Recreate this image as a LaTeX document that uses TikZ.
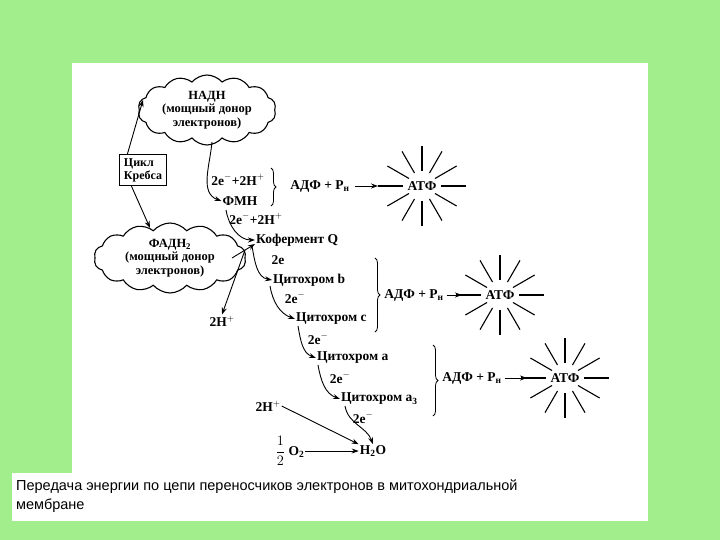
\documentclass[tikz,border=0pt]{standalone}
\usepackage{fontspec}
\setmainfont{Liberation Serif}
\newfontfamily\capfont{Liberation Sans}
\usetikzlibrary{shapes.symbols,arrows.meta,decorations.pathreplacing,calc}
\definecolor{bg}{HTML}{A3EE8C}
\tikzset{
  lbl/.style={font=\fontsize{13.5}{14}\selectfont\bfseries, inner sep=1pt},
  arr/.style={-{Stealth[length=7pt,width=5pt]}, line width=0.9pt},
  cl/.style={cloud, cloud puffs=14, cloud puff arc=100, cloud ignores aspect, draw, line width=1.1pt, align=center, font=\fontsize{12.5}{13.5}\selectfont\bfseries, inner sep=0pt},
  br/.style={decorate, decoration={brace, amplitude=5pt}, line width=0.8pt},
  ray/.style={line width=1.1pt}
}
\newcommand{\atpstar}[2]{%
  \node[lbl] (#2) at (#1) {АТФ};
  \foreach \a in {30,60,90,120,150,210,240,270,300,330}
    \draw[ray] ($(#1)+(\a:15)$) -- ($(#1)+(\a:40)$);
  \draw[ray] ($(#1)+(0:19)$) -- ($(#1)+(0:44)$);
  \draw[ray] ($(#1)+(180:19)$) -- ($(#1)+(180:44)$);
}
\begin{document}
\begin{tikzpicture}[x=1pt,y=-1pt]
\fill[bg] (0,0) rectangle (720,540);
\useasboundingbox (0,0) rectangle (720,540);
\fill[white] (72,63) rectangle (648,473);
\fill[white] (12,473) rectangle (648,521);
\node[anchor=north west, align=left, font=\capfont\fontsize{14.5}{19}\selectfont, inner sep=0pt] (cap) at (16,480) {Передача энергии по цепи переносчиков электронов в митохондриальной\\мембране};

\node[cl, minimum width=138, minimum height=70] (nadh) at (207,110) {НАДН\\(мощный донор\\электронов)};
\node[cl, minimum width=152, minimum height=70] (fad) at (170,258) {ФАДН\textsubscript{2}\\(мощный донор\\электронов)};
\node[draw, line width=0.9pt, align=left, lbl, inner sep=4pt, font=\fontsize{12}{13}\selectfont\bfseries] (krebs) at (143,170) {Цикл\\Кребса};

\node[lbl] (e1) at (238,180) {2e$^-$+2H$^+$};
\node[lbl] (fmn) at (240,201) {ФМН};
\node[lbl] (e2) at (256,219) {2e$^-$+2H$^+$};
\node[lbl, anchor=west] (q) at (255,240) {Кофермент Q};
\node[lbl] (e3) at (278,260) {2e};
\node[lbl, anchor=west] (cb) at (272,280) {Цитохром b};
\node[lbl] (e4) at (295,298) {2e$^-$};
\node[lbl, anchor=west] (cc) at (295,319) {Цитохром с};
\node[lbl] (e5) at (318,339) {2e$^-$};
\node[lbl, anchor=west] (ca) at (316,358) {Цитохром а};
\node[lbl] (e6) at (340,378) {2e$^-$};
\node[lbl, anchor=west] (ca3) at (340,399) {Цитохром а\textsubscript{3}};
\node[lbl] (e7) at (363,418) {2e$^-$};
\node[lbl] (h2o) at (373,451) {H\textsubscript{2}O};
\node[lbl] (o2) at (290,451) {$\displaystyle\frac{1}{2}$ O\textsubscript{2}};
\node[lbl] (hp2) at (268,406) {2H$^+$};
\node[lbl] (hp1) at (222,321) {2H$^+$};

\draw[br] (271,168) -- (271,206);
\node[lbl] (adp1) at (320,186) {АДФ + P\textsubscript{н}};
\coordinate (s1) at (422,186);
\draw[arr] (adp1.east) ++(4,0) -- (378,186);
\atpstar{s1}{atp1}

\draw[br] (375,258) -- (375,332);
\node[lbl] (adp2) at (414,295) {АДФ + P\textsubscript{н}};
\coordinate (s2) at (500,295);
\draw[arr] (adp2.east) ++(2,0) -- (462,295);
\atpstar{s2}{atp2}

\draw[br] (433,345) -- (433,416);
\node[lbl] (adp3) at (472,378) {АДФ + P\textsubscript{н}};
\coordinate (s3) at (565,378);
\draw[arr] (adp3.east) ++(2,0) -- (527,378);
\atpstar{s3}{atp3}

\draw[arr] (krebs.north west) ++(8,0) -- (143,100);
\draw[arr] (krebs.south west) ++(12,0) -- (150,228);
\draw[arr] (212,142) to[out=-95,in=160] (fmn.west);
\draw[arr] (226,210) to[out=-80,in=180] (q.west);
\draw[arr] (232,258) -- ($(q.west)+(0,4)$);
\draw[arr] (252,246) to[out=-80,in=170] (cb.west);
\draw[arr] (245,250) -- (hp1.north);
\draw[arr] (270,286) to[out=-80,in=160] (cc.west);
\draw[arr] (298,326) to[out=-80,in=160] (ca.west);
\draw[arr] (318,365) to[out=-80,in=160] (ca3.west);
\draw[arr] (345,406) to[out=-80,in=110] (h2o.north);
\draw[arr] (hp2.east) -- (h2o.north west);
\draw[arr] (o2.east) -- (h2o.west);
\end{tikzpicture}
\end{document}
